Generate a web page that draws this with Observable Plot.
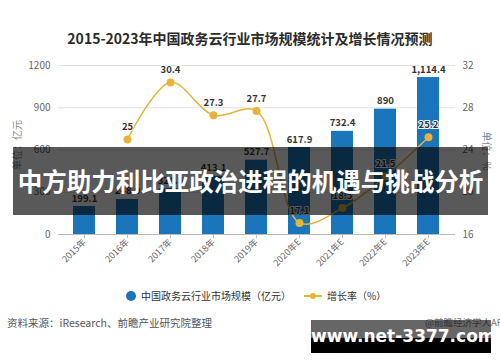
<!DOCTYPE html>
<html>
<head>
<meta charset="utf-8">
<script src="https://cdn.jsdelivr.net/npm/d3@7"></script>
<script src="https://cdn.jsdelivr.net/npm/@observablehq/plot@0.6"></script>
<style>
  html, body { margin: 0; padding: 0; background: #fff; }
  body { width: 500px; height: 362px; position: relative; overflow: hidden; font-family: "Noto Sans CJK SC", "Noto Sans", sans-serif; }
  .abs { position: absolute; white-space: nowrap; }
  #title { top: 29px; left: 0; width: 500px; text-align: center; font-size: 14px; font-weight: bold; color: #2b2b2b; line-height: 18px; }
  #chart { position: absolute; top: 50px; left: 0; }
  .ylab { font-size: 10px; color: #888; line-height: 12px; }
  .leg { font-size: 10px; color: #333; line-height: 12px; }
  #banner { left: 13px; top: 147px; width: 475px; height: 68px; background: rgba(0,0,0,0.65); color: #fff; font-size: 24.5px; font-weight: bold; line-height: 68px; text-align: center; }
  #src { left: 7px; top: 316px; font-size: 10.5px; color: #555; line-height: 13px; }
  #app { left: 425px; top: 316px; font-size: 9.5px; color: #777; line-height: 13px; }
  #wm { left: 311px; top: 320px; width: 180px; height: 33px; background: linear-gradient(to bottom, rgba(0,0,0,0.6) 0%, rgba(0,0,0,0.6) 55%, #000 55%, #000 100%); color: #fff; font-family: "DejaVu Sans", sans-serif; font-weight: bold; font-size: 17px; line-height: 33px; text-align: center; }
</style>
</head>
<body>
<div id="title" class="abs">2015-2023年中国政务云行业市场规模统计及增长情况预测</div>
<div id="chart"></div>
<div class="abs ylab" style="left:17px; top:145px; transform: translate(-50%,-50%) rotate(-90deg);">单位：亿元</div>
<div class="abs ylab" style="left:487px; top:151px; transform: translate(-50%,-50%) rotate(90deg);">单位：%</div>
<div class="abs" style="left:126px; top:291px; width:10px; height:10px; border-radius:50%; background:#1a75bb;"></div>
<div class="abs leg" style="left:141px; top:290px;">中国政务云行业市场规模（亿元）</div>
<div class="abs" style="left:304px; top:295px; width:18px; height:1.5px; background:#e8b33a;"></div>
<div class="abs" style="left:310px; top:293px; width:6px; height:6px; border-radius:50%; background:#e8b33a;"></div>
<div class="abs leg" style="left:327px; top:290px;">增长率（%）</div>
<div id="src" class="abs">资料来源：iResearch、前瞻产业研究院整理</div>
<div id="app" class="abs">@前瞻经济学人APP</div>
<div id="banner" class="abs">中方助力利比亚政治进程的机遇与挑战分析</div>
<div id="wm" class="abs">www.net-3377.com</div>
<script>
const years = ["2015年","2016年","2017年","2018年","2019年","2020年E","2021年E","2022年E","2023年E"];
const marketSize = [199.1, 248.9, 324.5, 413.1, 527.7, 617.9, 732.4, 890, 1114.4];
const growthYears = ["2016年","2017年","2018年","2019年","2020年E","2021年E","2022年E","2023年E"];
const growthRate = [25, 30.4, 27.3, 27.7, 17.1, 18.5, 21.5, 25.2];
const leftTicks = [0, 300, 600, 900, 1200];
const rightTicks = [16, 20, 24, 28, 32];

const factor = (leftTicks[leftTicks.length-1] - leftTicks[0]) / (rightTicks[rightTicks.length-1] - rightTicks[0]);
const toLeft = r => (r - rightTicks[0]) * factor;

const bars = years.map((y, i) => ({year: y, value: marketSize[i]}));
const rates = growthYears.map((y, i) => ({year: y, rate: growthRate[i], v: toLeft(growthRate[i])}));
const fmt = d3.format(",");
const gold = "#e8b33a";

const chart = Plot.plot({
  width: 500,
  height: 236,
  marginTop: 15,
  marginBottom: 52,
  marginLeft: 61,
  marginRight: 50,
  style: {fontFamily: "Noto Sans CJK SC, Noto Sans, sans-serif", background: "transparent"},
  x: {type: "band", domain: years, paddingInner: 0.5, paddingOuter: 0.25},
  y: {domain: [0, 1200]},
  marks: [
    Plot.gridY(leftTicks, {stroke: "#e3e3e3", strokeOpacity: 1, insetLeft: -3, insetRight: -5}),
    Plot.axisY(leftTicks, {anchor: "left", tickSize: 0, tickPadding: 11, fontSize: 10, fill: "#666", label: null, tickFormat: d => String(d)}),
    Plot.axisY(leftTicks, {anchor: "right", tickSize: 0, tickPadding: 12, fontSize: 10, fill: "#666", label: null, tickFormat: d => String(rightTicks[leftTicks.indexOf(d)])}),
    Plot.barY(bars, {x: "year", y: "value", fill: "#1a75bb"}),
    Plot.ruleY([0], {stroke: "#bbb", insetLeft: -3, insetRight: -5}),
    Plot.axisX({tickRotate: -45, tickSize: 4, stroke: "#bbb", fontSize: 9, fill: "#666", label: null, tickPadding: 2}),
    Plot.text(bars, {x: "year", y: "value", text: d => fmt(d.value), dy: -8, fontSize: 9.5, fontWeight: "bold", fill: "#333"}),
    Plot.line(rates, {x: "year", y: "v", curve: "catmull-rom", stroke: gold, strokeWidth: 1.5}),
    Plot.dot(rates, {x: "year", y: "v", r: 4, fill: gold}),
    Plot.text(rates, {x: "year", y: "v", text: d => String(d.rate), dy: -12, fontSize: 9.5, fontWeight: "bold", fill: "#333", stroke: "white", strokeWidth: 2})
  ]
});
document.getElementById("chart").appendChild(chart);
</script>
</body>
</html>
